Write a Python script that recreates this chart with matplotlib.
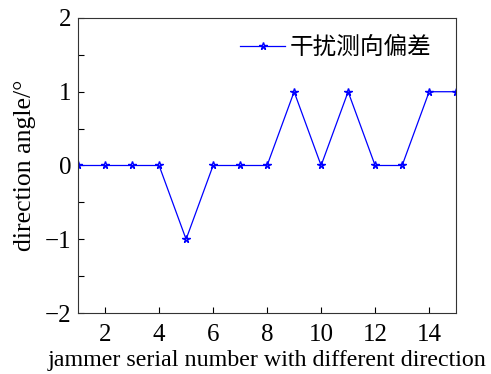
import matplotlib.pyplot as plt
from matplotlib.ticker import MultipleLocator

# -- data
serial = [1, 2, 3, 4, 5, 6, 7, 8, 9, 10, 11, 12, 13, 14, 15]
angle_err = [0, 0, 0, 0, -1, 0, 0, 0, 1, 0, 1, 0, 0, 1, 1]
legend_label = '干扰测向偏差'
yticks = [-2, -1, 0, 1, 2]
yticklabels = ['\u22122', '\u22121', '0', '1', '2']

plt.rcParams['font.family'] = ['Liberation Serif', 'Noto Sans CJK SC']

fig = plt.figure(figsize=(4.91, 3.74), dpi=100)
ax = fig.add_axes([0.159, 0.163, 0.770, 0.789])

ax.plot(serial, angle_err, color='#0000ff', lw=0.9, marker='*', ms=5.5,
        mfc='none', mec='#0000ff', mew=1.0, label=legend_label)

ax.set_xlim(1, 15)
ax.set_ylim(-2, 2)
ax.xaxis.set_major_locator(MultipleLocator(2))
ax.set_yticks(yticks)
ax.set_yticklabels(yticklabels)
ax.yaxis.set_minor_locator(MultipleLocator(0.5))
ax.tick_params(direction='in', labelsize=18, length=4, width=0.8, pad=5,
               top=False, right=False)
ax.tick_params(axis='x', pad=8)
ax.tick_params(which='minor', direction='in', length=4, width=0.8, top=False, right=False)

for s in ax.spines.values():
    s.set_linewidth(0.8)
    s.set_color('#333333')

ax.set_xlabel('jammer serial number with different direction', fontsize=17.3, labelpad=3)
ax.set_ylabel('direction angle/°', fontsize=18.5, labelpad=6)

leg = ax.legend(loc='upper right', frameon=False, fontsize=17,
                handlelength=1.9, handletextpad=0.2, borderaxespad=0.4,
                bbox_to_anchor=(0.985, 1.0))

fig.savefig('out.png', dpi=100)
